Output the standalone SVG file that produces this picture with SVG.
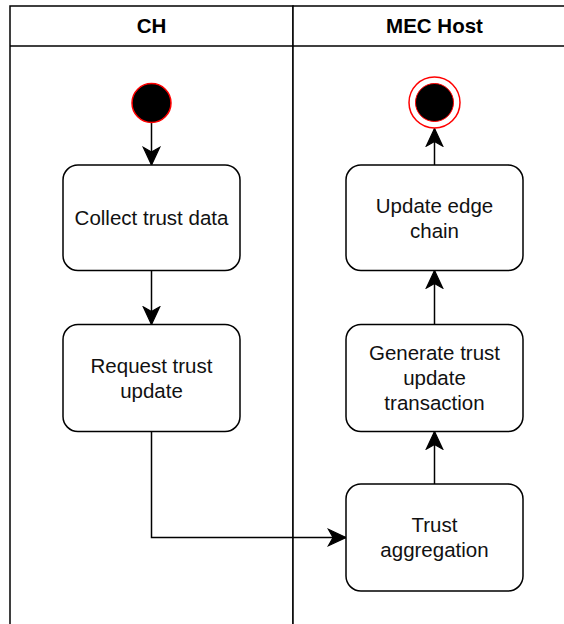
<svg xmlns="http://www.w3.org/2000/svg" width="564" height="624" viewBox="0 0 564 624">
  <style>
    .lane { fill: #ffffff; stroke: #000000; stroke-width: 1.5; }
    .head { font-family: "Liberation Sans", Arial, Helvetica, sans-serif; font-size: 20.5px; font-weight: bold; fill: #000000; text-anchor: middle; }
    .box { fill: #ffffff; stroke: #000000; stroke-width: 1.5; }
    .label { font-family: "Liberation Sans", Arial, Helvetica, sans-serif; font-size: 20.5px; fill: #111111; text-anchor: middle; }
    .edge { fill: none; stroke: #000000; stroke-width: 1.5; marker-end: url(#arrow); }
  </style>
  <defs>
    <marker id="arrow" markerUnits="userSpaceOnUse" markerWidth="20" markerHeight="20" viewBox="-16 -8 17 16" refX="0" refY="0" orient="auto">
      <path d="M0,0 L-15,-7 L-11,0 L-15,7 Z" fill="#000000" stroke="#000000" stroke-width="1"/>
    </marker>
  </defs>

  <!-- swimlanes -->
  <g id="lane-ch">
    <rect class="lane" x="10" y="6" width="283" height="640"/>
    <line x1="10" y1="46" x2="293" y2="46" stroke="#000000" stroke-width="1.5"/>
    <text class="head" x="151.5" y="33">CH</text>
  </g>
  <g id="lane-mec">
    <rect class="lane" x="293" y="6" width="283" height="640"/>
    <line x1="293" y1="46" x2="576" y2="46" stroke="#000000" stroke-width="1.5"/>
    <text class="head" x="434.5" y="33">MEC Host</text>
  </g>

  <!-- connectors -->
  <g id="connectors">
    <path class="edge" d="M151.5,123 L151.5,165"/>
    <path class="edge" d="M151.5,270.5 L151.5,324.5"/>
    <path class="edge" d="M151.5,431.5 L151.5,537.5 L346,537.5"/>
    <path class="edge" d="M434.5,484 L434.5,431.5"/>
    <path class="edge" d="M434.5,324.5 L434.5,270.5"/>
    <path class="edge" d="M434.5,165 L434.5,128.5"/>
  </g>

  <!-- start / end states -->
  <g id="start">
    <circle cx="151.5" cy="103" r="19.5" fill="#000000" stroke="#ff0000" stroke-width="1.5"/>
  </g>
  <g id="end">
    <circle cx="434.5" cy="102.5" r="25.5" fill="#ffffff" stroke="#ff0000" stroke-width="1.5"/>
    <circle cx="434.5" cy="102.5" r="19" fill="#000000" stroke="#ff0000" stroke-width="1"/>
  </g>

  <!-- actions -->
  <g id="collect-trust-data">
    <rect class="box" x="63" y="165" width="177" height="105.5" rx="15" ry="15"/>
    <text class="label" x="151.5" y="225">Collect trust data</text>
  </g>
  <g id="request-trust-update">
    <rect class="box" x="63" y="324.5" width="177" height="107" rx="15" ry="15"/>
    <text class="label" x="151.5" y="372.5">Request trust</text>
    <text class="label" x="151.5" y="397.5">update</text>
  </g>
  <g id="update-edge-chain">
    <rect class="box" x="346" y="165" width="177" height="105.5" rx="15" ry="15"/>
    <text class="label" x="434.5" y="212.5">Update edge</text>
    <text class="label" x="434.5" y="237.5">chain</text>
  </g>
  <g id="generate-transaction">
    <rect class="box" x="346" y="324.5" width="177" height="107" rx="15" ry="15"/>
    <text class="label" x="434.5" y="360">Generate trust</text>
    <text class="label" x="434.5" y="385">update</text>
    <text class="label" x="434.5" y="410">transaction</text>
  </g>
  <g id="trust-aggregation">
    <rect class="box" x="346" y="484" width="177" height="107" rx="15" ry="15"/>
    <text class="label" x="434.5" y="532">Trust</text>
    <text class="label" x="434.5" y="557">aggregation</text>
  </g>
</svg>
